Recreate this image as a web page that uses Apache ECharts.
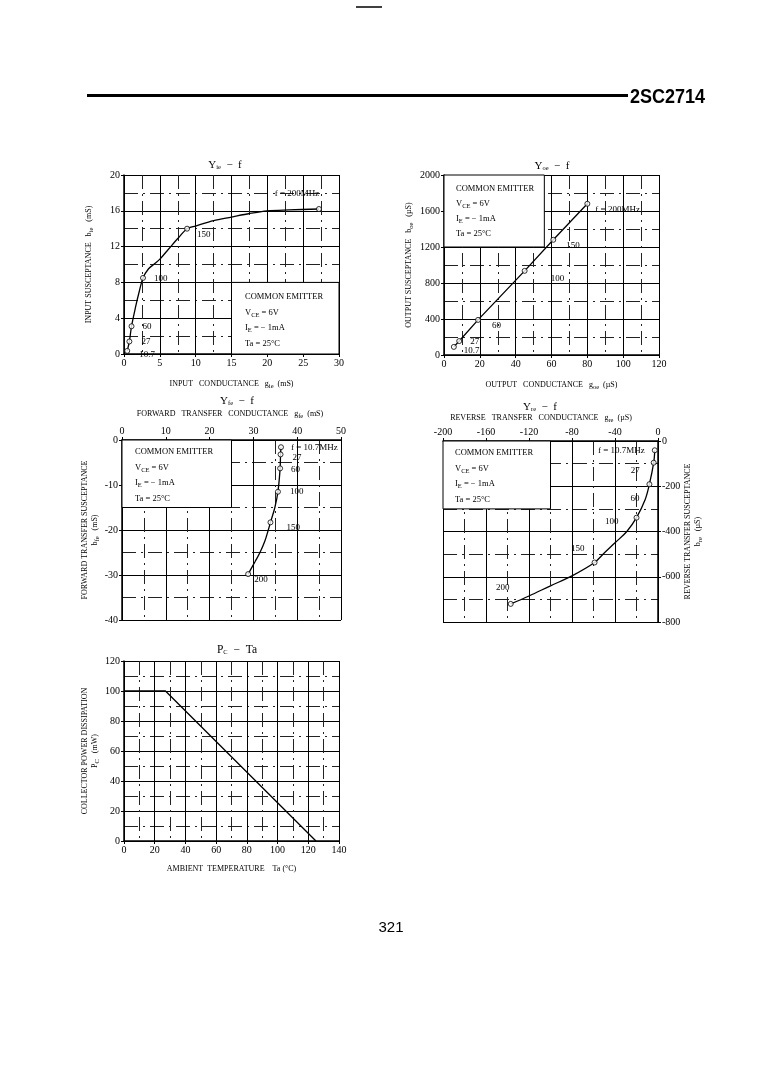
<!DOCTYPE html>
<html><head><meta charset="utf-8">
<script src="https://cdn.jsdelivr.net/npm/echarts@6/dist/echarts.min.js"></script>
<style>html,body{margin:0;padding:0;background:#fff}#c{width:759px;height:1066px}</style>
</head><body><div id="c"></div><script>
// ---------------- DATA ----------------
// Yie - f : input conductance gie (mS) vs input susceptance bie (mS)
const yieG = [0.45,0.75,1.05,1.6,2.1,2.65,3.4,4.3,5.0,6.2,7.5,8.8,10,12.5,15,17.5,20,23,27.2];
const yieB = [0.35,1.4,3.1,5.2,6.9,8.5,9.5,10.1,10.6,11.7,12.9,14.0,14.3,14.9,15.3,15.7,16.0,16.1,16.2];
const yieMarkG = [0.45,0.75,1.05,2.65,8.8,27.2];
const yieMarkB = [0.35,1.4,3.1,8.5,14.0,16.2];
const yieFreq = ['10.7','27','60','100','150','f = 200MHz'];
// Yoe - f : output conductance goe (uS) vs output susceptance boe (uS)
const yoeG = [5.5,8.5,19,45,61,80];
const yoeB = [90,155,390,935,1280,1680];
const yoeFreq = ['10.7','27','60','100','150','f = 200MHz'];
// Yfe - f : forward transfer conductance gfe (mS) vs susceptance bfe (mS)
const yfeG = [36.3,36.2,36.1,35.6,34.9,33.9,33.4,32.6,31.5,30.4,28.8];
const yfeB = [-1.6,-3.2,-6.3,-11.5,-15,-18.3,-20,-22.5,-25,-27,-29.8];
const yfeMarkG = [36.3,36.2,36.1,35.6,33.9,28.8];
const yfeMarkB = [-1.6,-3.2,-6.3,-11.5,-18.3,-29.8];
const yfeFreq = ['f = 10.7MHz','27','60','100','150','200'];
// Yre - f : reverse transfer conductance gre (uS) vs susceptance bre (uS)
const yreG = [-3,-4,-8,-12,-20,-29,-40,-50,-59,-80,-100,-120,-137];
const yreB = [-41,-96,-191,-260,-339,-400,-450,-495,-537,-596,-640,-685,-720];
const yreMarkG = [-3,-4,-8,-20,-59,-137];
const yreMarkB = [-41,-96,-191,-339,-537,-720];
const yreFreq = ['f = 10.7MHz','27','60','100','150','200'];
// PC - Ta
const pcTa = [0,27,125];
const pcPc = [100,100,0];
// tick label sets
const yieXTicks = [0,5,10,15,20,25,30], yieYTicks = [0,4,8,12,16,20];
const yoeXTicks = [0,20,40,60,80,100,120], yoeYTicks = [0,400,800,1200,1600,2000];
const yfeXTicks = [0,10,20,30,40,50], yfeYTicks = [0,-10,-20,-30,-40];
const yreXTicks = [-200,-160,-120,-80,-40,0], yreYTicks = [0,-200,-400,-600,-800];
const pcXTicks = [0,20,40,60,80,100,120,140], pcYTicks = [0,20,40,60,80,100,120];
const condText = ['COMMON EMITTER','V{sub|CE} = 6V','I{sub|E} = \u2212 1mA','Ta = 25\u00B0C'];

// ---------------- CHART ----------------
const SERIF = "'Liberation Serif','DejaVu Serif',serif";
const rich = {sub:{fontFamily:SERIF,fontSize:6.5,padding:[5,0,0,0],color:'#000'}};
const chart = echarts.init(document.getElementById('c'), null, {renderer:'canvas', width:759, height:1066});

function span(t){return [t[0], t[t.length-1]];}
function axis(gi, ticks, pos, name, nameGap, extra){
  const s = span(ticks);
  return Object.assign({
    gridIndex:gi, type:'value', min:Math.min(s[0],s[1]), max:Math.max(s[0],s[1]),
    interval:Math.abs(ticks[1]-ticks[0]), position:pos,
    axisLine:{show:true,onZero:false,lineStyle:{color:'#000',width:1.5}},
    axisTick:{show:true,length:3,inside:false,lineStyle:{color:'#000'}},
    axisLabel:{fontFamily:SERIF,fontSize:10,color:'#000',margin:4,formatter:v=>String(v)},
    splitLine:{show:true,lineStyle:{color:'#000',width:1}},
    minorTick:{show:false,splitNumber:2},
    minorSplitLine:{show:true,lineStyle:{color:'#222',width:1,type:[14,5,2,5]}},
    name:name, nameLocation:'middle', nameGap:nameGap,
    nameTextStyle:{fontFamily:SERIF,fontSize:8,color:'#000',rich:rich}
  }, extra||{});
}
function zip(a,b){return a.map((v,i)=>[v,b[i]]);}
function curve(xi, g, b, smooth){
  return {type:'line', xAxisIndex:xi, yAxisIndex:xi, data:zip(g,b), showSymbol:false,
    smooth:smooth, lineStyle:{color:'#000',width:1.3}, z:5, silent:true};
}
function marks(xi, g, b, names, layout){
  return {type:'scatter', xAxisIndex:xi, yAxisIndex:xi, symbol:'circle', symbolSize:5, z:6,
    itemStyle:{color:'#fff',borderColor:'#000',borderWidth:1},
    data:g.map((v,i)=>({value:[v,b[i]], name:names[i],
      label:{show:true, position:layout[i][0], offset:layout[i].slice(1), formatter:'{b}',
        fontFamily:SERIF, fontSize:9, color:'#000', textBorderWidth:0, opacity:1}}))};
}
function box(xi, a, b){
  return {type:'line', xAxisIndex:xi, yAxisIndex:xi, data:[], z:3, silent:true,
    markArea:{silent:true, itemStyle:{color:'#fff',borderColor:'#000',borderWidth:1},
      data:[[{coord:a},{coord:b}]]}};
}
function condGraphic(x, y, step){
  return condText.map((t,i)=>({type:'text', x:x, y:y+i*step, z:20,
    style:{text:t, fontFamily:SERIF, fontSize:8.5, fill:'#000', rich:rich, verticalAlign:'middle'}}));
}
function title(x, y, t, fs){
  return {type:'text', x:x, y:y, z:20, style:{text:t, fontFamily:SERIF, fontSize:fs||11, fill:'#000',
    align:'center', verticalAlign:'middle', rich:rich}};
}

const option = {
  backgroundColor:'#fff',
  animation:false,
  grid:[
    {left:124, top:175, width:215, height:179},
    {left:444, top:175, width:215, height:180},
    {left:122, top:440, width:219, height:180},
    {left:443, top:441, width:215, height:181},
    {left:124, top:661, width:215, height:180}
  ],
  xAxis:[
    axis(0, yieXTicks, 'bottom', 'INPUT   CONDUCTANCE   g{sub|ie}  (mS)', 24),
    axis(1, yoeXTicks, 'bottom', 'OUTPUT   CONDUCTANCE   g{sub|oe}  (\u00B5S)', 24),
    axis(2, yfeXTicks, 'top', '', 20),
    axis(3, yreXTicks, 'top', '', 20),
    axis(4, pcXTicks, 'bottom', 'AMBIENT  TEMPERATURE    Ta (\u00B0C)', 24)
  ],
  yAxis:[
    axis(0, yieYTicks, 'left', 'INPUT SUSCEPTANCE   b{sub|ie}   (mS)', 29),
    axis(1, yoeYTicks, 'left', 'OUTPUT SUSCEPTANCE   b{sub|oe}   (\u00B5S)', 29),
    axis(2, yfeYTicks, 'left', 'FORWARD TRANSFER SUSCEPTANCE\nb{sub|fe}   (mS)', 20),
    axis(3, yreYTicks, 'right', 'REVERSE TRANSFER SUSCEPTANCE\nb{sub|re}   (\u00B5S)', 22, {nameRotate:90}),
    axis(4, pcYTicks, 'left', 'COLLECTOR POWER DISSIPATION\nP{sub|C}   (mW)', 22)
  ],
  series:[
    box(0,[15,8],[30,0]),
    curve(0, yieG, yieB, 0.3),
    marks(0, yieMarkG, yieMarkB, yieFreq, [['right',4,4],['right',4,0],['right',3,0],['right',3,1],['right',2,6],['top',-22,-3]]),
    box(1,[0,2000],[56,1200]),
    curve(1, yoeG, yoeB, false),
    marks(1, yoeG, yoeB, yoeFreq, [['right',2,4],['right',3,1],['right',6,6],['right',18,8],['right',5,6],['right',0,6]]),
    box(2,[0,0],[25,-15]),
    curve(2, yfeG, yfeB, 0.35),
    marks(2, yfeMarkG, yfeMarkB, yfeFreq, [['right',2,0],['right',4,3],['right',3,1],['right',4,0],['right',8,5],['right',-2,6]]),
    box(3,[-200,0],[-100,-300]),
    curve(3, yreG, yreB, 0.35),
    marks(3, yreMarkG, yreMarkB, yreFreq, [['left',-2,0],['left',-6,8],['left',-2,14],['left',-10,4],['left',-2,-14],['top',-8,-4]]),
    curve(4, pcTa, pcPc, false)
  ],
  graphic:[
    {type:'line', z:20, shape:{x1:356,y1:7,x2:382,y2:7}, style:{stroke:'#000',lineWidth:1.5}},
    {type:'line', z:20, shape:{x1:87,y1:95.5,x2:628,y2:95.5}, style:{stroke:'#000',lineWidth:3}},
    {type:'text', z:20, x:630, y:97, scaleX:0.9, style:{text:'2SC2714', fontFamily:"'Liberation Sans',Arial,sans-serif",
      fontWeight:'bold', fontSize:20, fill:'#000', verticalAlign:'middle'}},
    {type:'text', z:20, x:391, y:928, style:{text:'321', fontFamily:"'Liberation Sans Narrow','Liberation Sans',sans-serif",
      fontSize:15, fill:'#000', align:'center', verticalAlign:'middle'}},
    title(225,165,'Y{sub|ie}  \u2212  f'),
    title(552,166,'Y{sub|oe}  \u2212  f'),
    title(237,401,'Y{sub|fe}  \u2212  f'),
    title(230,414,'FORWARD   TRANSFER   CONDUCTANCE   g{sub|fe}  (mS)',8),
    title(540,407,'Y{sub|re}  \u2212  f'),
    title(541,418,'REVERSE   TRANSFER   CONDUCTANCE   g{sub|re}  (\u00B5S)',8),
    title(237,650,'P{sub|C}  \u2212  Ta',11.5)
  ].concat(condGraphic(245,297,15.5), condGraphic(456,189,15), condGraphic(135,452,15.5), condGraphic(455,453,15.5))
};
chart.setOption(option);
</script></body></html>
